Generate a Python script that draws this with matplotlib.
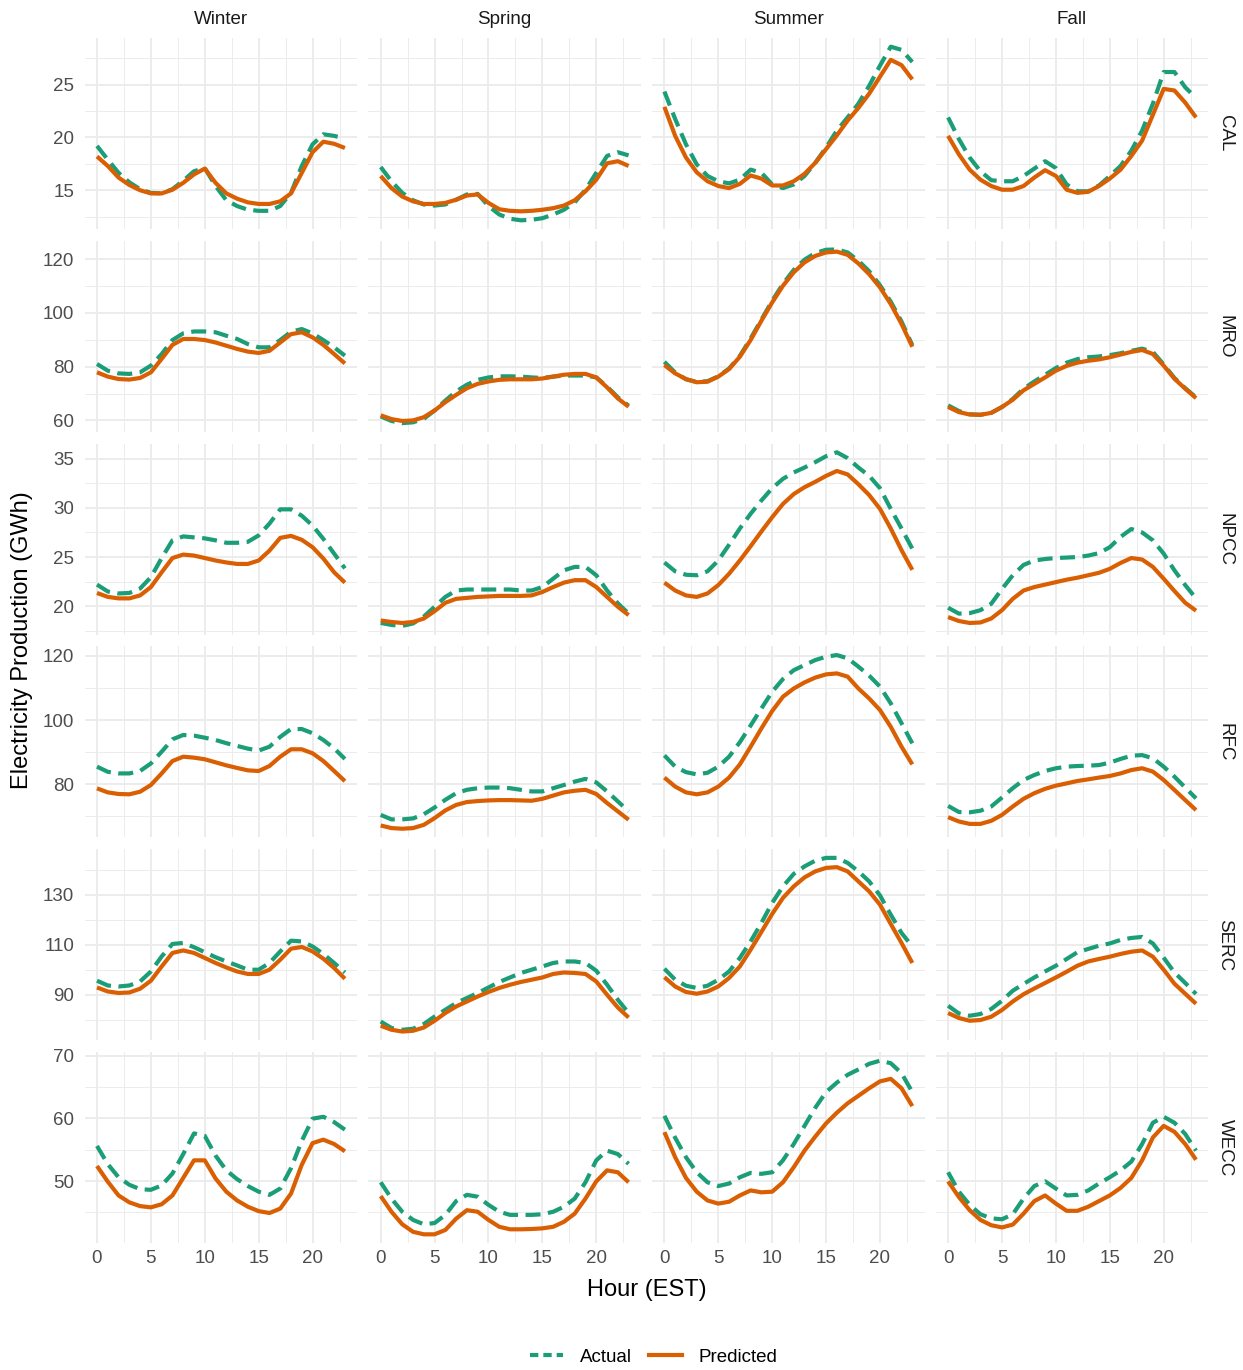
import matplotlib
matplotlib.use("Agg")
import matplotlib.pyplot as plt
from matplotlib.lines import Line2D

plt.rcParams['font.family'] = ['Liberation Sans', 'DejaVu Sans']

hours = list(range(24))
seasons = ["Winter", "Spring", "Summer", "Fall"]
regions = ["CAL", "MRO", "NPCC", "RFC", "SERC", "WECC"]

# ---------------- CAL ----------------
cal_winter_actual = [19.2,17.9,16.65,15.75,15.1,14.75,14.7,15.1,15.9,16.8,17.1,15.4,14.05,13.5,13.15,13.05,13.05,13.5,14.75,17.3,19.35,20.3,20.15,19.9]
cal_winter_pred = [18.2,17.3,16.2,15.5,15.0,14.7,14.7,15.05,15.7,16.5,17.05,15.7,14.7,14.2,13.85,13.7,13.7,13.95,14.7,16.65,18.6,19.6,19.4,19.0]
cal_spring_actual = [17.2,15.85,14.75,14.05,13.65,13.55,13.65,14.1,14.6,14.65,13.5,12.7,12.3,12.15,12.2,12.35,12.7,13.15,13.85,15.05,16.65,18.25,18.6,18.3]
cal_spring_pred = [16.35,15.2,14.4,13.95,13.7,13.7,13.8,14.1,14.5,14.6,13.8,13.2,13.05,13.0,13.05,13.15,13.3,13.55,14.05,14.9,16.0,17.55,17.75,17.3]
cal_summer_actual = [24.35,21.75,19.35,17.45,16.35,15.85,15.65,16.0,16.95,16.65,15.55,15.2,15.55,16.35,17.6,19.05,20.65,21.9,23.2,24.9,26.8,28.6,28.3,27.15]
cal_summer_pred = [22.9,20.15,18.1,16.7,15.85,15.4,15.2,15.6,16.4,16.1,15.45,15.45,15.85,16.55,17.6,18.9,20.2,21.6,22.8,24.15,25.75,27.35,26.85,25.5]
cal_fall_actual = [21.9,19.85,18.1,16.8,15.95,15.85,15.85,16.35,17.05,17.75,17.1,15.55,14.9,14.9,15.45,16.35,17.3,18.75,20.65,23.2,26.2,26.2,24.75,23.75]
cal_fall_pred = [20.15,18.4,16.95,16.0,15.4,15.05,15.05,15.4,16.2,16.9,16.35,15.05,14.75,14.85,15.4,16.1,16.95,18.25,19.7,22.15,24.6,24.45,23.3,21.9]

# ---------------- MRO ----------------
mro_winter_actual = [81.0,78.5,77.5,77.3,77.9,80.4,84.7,89.9,92.4,93.1,93.1,92.8,91.5,90.3,88.4,87.2,87.2,89.9,93.0,94.0,92.4,89.9,87.2,84.1]
mro_winter_pred = [77.9,76.3,75.4,75.2,75.8,77.9,82.9,88.1,90.3,90.3,89.9,89.0,87.8,86.6,85.6,85.1,85.9,89.0,92.1,92.8,90.9,88.1,84.7,81.2]
mro_spring_actual = [61.5,59.8,59.0,59.3,60.6,63.7,67.4,70.8,73.3,75.1,76.0,76.4,76.4,76.3,76.0,75.8,76.3,76.7,76.7,76.7,76.0,72.6,68.6,65.5]
mro_spring_pred = [61.9,60.5,59.8,60.0,61.2,63.7,66.8,69.5,72.0,73.6,74.5,75.1,75.3,75.3,75.3,75.6,76.3,77.0,77.3,77.3,76.0,72.3,68.2,65.1]
mro_summer_actual = [81.8,77.8,75.3,74.3,74.6,76.4,79.3,84.0,90.5,97.5,104.5,110.8,116.0,119.8,122.3,123.5,123.6,122.5,119.4,115.5,110.3,104.2,96.8,88.0]
mro_summer_pred = [80.6,77.5,75.4,74.2,74.4,76.3,79.1,83.7,89.9,97.1,103.9,110.1,115.1,118.8,121.2,122.5,122.8,121.6,118.4,114.4,109.5,103.3,95.9,87.4]
mro_fall_actual = [65.6,63.5,62.3,62.1,62.8,65.0,68.0,71.8,74.5,77.0,79.5,81.5,82.8,83.5,83.8,84.3,85.0,85.9,86.7,85.5,80.8,75.8,72.0,68.6]
mro_fall_pred = [65.0,63.1,62.2,62.1,62.8,65.0,67.7,71.2,73.6,76.0,78.5,80.3,81.5,82.2,82.7,83.5,84.5,85.5,86.2,84.7,80.4,75.5,71.8,68.3]

# ---------------- NPCC ----------------
npcc_winter_actual = [22.2,21.5,21.3,21.35,21.8,22.95,24.9,26.7,27.1,27.0,26.9,26.7,26.45,26.45,26.55,27.2,28.4,29.85,29.85,29.2,28.2,26.85,25.35,23.85]
npcc_winter_pred = [21.35,20.95,20.8,20.8,21.1,21.95,23.45,24.9,25.25,25.15,24.9,24.65,24.45,24.3,24.3,24.65,25.65,26.95,27.15,26.75,26.0,24.85,23.45,22.4]
npcc_spring_actual = [18.3,18.1,18.0,18.25,18.95,19.95,20.95,21.6,21.7,21.7,21.7,21.7,21.7,21.6,21.6,21.95,22.8,23.65,24.0,24.0,23.15,21.6,20.3,19.25]
npcc_spring_pred = [18.55,18.4,18.3,18.4,18.75,19.5,20.35,20.75,20.85,20.95,21.0,21.05,21.05,21.05,21.1,21.45,21.95,22.4,22.65,22.65,21.95,20.95,19.95,19.1]
npcc_summer_actual = [24.45,23.55,23.2,23.15,23.55,24.65,26.25,27.9,29.4,30.75,32.0,32.95,33.6,34.1,34.65,35.25,35.65,35.05,34.1,33.25,32.0,29.9,27.9,25.85]
npcc_summer_pred = [22.4,21.6,21.1,20.95,21.3,22.15,23.3,24.65,26.1,27.6,29.05,30.4,31.4,32.1,32.65,33.25,33.75,33.4,32.4,31.3,29.9,27.9,25.7,23.7]
npcc_fall_actual = [19.85,19.25,19.3,19.6,20.25,21.75,23.15,24.2,24.65,24.8,24.9,24.95,25.0,25.15,25.4,26.0,27.05,27.85,27.5,26.7,25.35,23.65,22.15,20.8]
npcc_fall_pred = [18.9,18.5,18.3,18.35,18.75,19.6,20.75,21.6,21.95,22.2,22.45,22.7,22.9,23.15,23.4,23.8,24.4,24.9,24.75,24.0,22.8,21.55,20.35,19.55]

# ---------------- RFC ----------------
rfc_winter_actual = [85.5,83.9,83.4,83.4,84.15,86.5,90.15,94.0,95.35,95.15,94.5,93.8,92.8,91.95,91.1,90.5,91.7,94.75,97.2,97.2,95.9,93.8,91.2,87.9]
rfc_winter_pred = [78.75,77.5,77.0,76.9,77.7,79.8,83.4,87.25,88.6,88.3,87.8,86.85,85.9,85.1,84.35,84.15,85.7,88.6,90.9,90.9,89.65,87.25,84.15,81.0]
rfc_spring_actual = [70.5,69.1,69.1,69.4,70.7,72.8,75.2,77.25,78.3,78.8,79.0,79.0,78.8,78.3,77.8,77.8,78.8,79.8,80.85,81.7,80.6,77.8,74.7,71.6]
rfc_spring_pred = [67.2,66.4,66.2,66.4,67.4,69.5,71.9,73.6,74.5,74.8,75.0,75.1,75.1,75.0,74.9,75.5,76.5,77.5,78.0,78.3,77.0,74.2,71.6,69.0]
rfc_summer_actual = [89.0,85.5,83.8,83.1,83.6,85.5,88.6,93.1,98.3,103.6,108.8,112.75,115.5,117.1,118.65,119.7,120.2,119.2,116.6,113.8,110.4,105.2,99.0,92.75]
rfc_summer_pred = [82.1,79.3,77.5,76.9,77.5,79.3,82.1,86.2,91.7,97.4,102.8,107.25,109.8,111.7,113.2,114.2,114.5,113.5,109.8,106.7,103.1,97.9,91.7,86.2]
rfc_fall_actual = [73.3,71.4,71.3,71.8,73.1,75.9,78.8,81.35,82.9,84.15,85.0,85.5,85.7,85.8,86.0,86.75,87.9,88.9,89.1,88.1,85.5,82.4,79.0,75.65]
rfc_fall_pred = [69.8,68.45,67.7,67.7,68.65,70.5,73.1,75.5,77.25,78.6,79.6,80.3,81.05,81.55,82.1,82.6,83.4,84.45,85.0,83.95,81.35,78.25,75.1,72.0]

# ---------------- SERC ----------------
serc_winter_actual = [95.6,93.7,93.3,93.7,95.3,99.3,105.3,110.3,110.7,109.0,107.0,105.0,103.3,101.7,100.0,100.0,102.7,107.3,111.6,111.3,109.3,106.3,102.7,98.9]
serc_winter_pred = [92.9,91.3,90.7,90.9,92.4,95.6,101.3,106.7,107.7,106.7,104.7,102.7,100.9,99.3,98.3,98.3,100.0,104.0,108.4,109.1,107.3,104.4,100.7,96.4]
serc_spring_actual = [79.3,76.7,76.0,76.4,78.3,81.3,84.0,86.7,88.7,90.7,92.9,95.1,96.9,98.7,100.0,101.3,102.7,103.3,103.3,102.7,99.6,94.0,88.0,82.7]
serc_spring_pred = [77.6,76.0,75.3,75.6,76.9,79.6,82.7,85.3,87.3,89.3,91.1,92.7,94.0,95.1,96.0,96.9,98.3,98.9,98.7,98.3,95.3,90.0,84.9,80.9]
serc_summer_actual = [100.4,96.0,93.6,92.7,93.6,96.0,99.3,104.7,111.3,118.7,126.7,133.3,138.3,141.3,143.6,144.7,144.7,142.7,139.3,135.3,129.7,122.0,114.7,109.3]
serc_summer_pred = [97.0,93.3,91.1,90.4,91.3,93.3,96.7,101.3,108.0,115.1,122.3,128.7,133.3,136.9,139.3,140.7,141.0,139.3,135.3,131.3,126.0,118.3,110.7,102.7]
serc_fall_actual = [85.6,82.5,81.6,82.3,84.3,87.6,91.6,94.3,96.9,99.3,101.6,104.3,107.0,108.3,109.6,110.5,111.9,112.7,113.1,110.5,104.8,98.9,94.7,90.3]
serc_fall_pred = [82.7,80.7,79.6,79.9,81.2,83.9,87.3,90.2,92.5,94.7,96.9,99.2,101.6,103.3,104.3,105.2,106.3,107.2,107.7,105.2,100.0,94.4,90.4,86.4]

# ---------------- WECC ----------------
wecc_winter_actual = [55.6,52.7,50.6,49.4,48.7,48.6,49.3,51.2,54.3,57.6,57.2,54.05,51.7,50.3,49.2,48.3,47.8,48.8,52.05,56.4,59.95,60.25,59.4,58.2]
wecc_winter_pred = [52.4,49.9,47.7,46.6,46.0,45.8,46.3,47.7,50.5,53.3,53.3,50.4,48.3,46.9,45.9,45.2,44.9,45.6,48.0,52.6,56.05,56.6,55.9,54.75]
wecc_spring_actual = [49.8,47.2,45.1,43.8,43.1,43.3,44.6,46.8,47.8,47.5,46.2,45.1,44.6,44.6,44.6,44.7,45.1,45.9,47.2,49.8,53.3,54.85,54.3,52.75]
wecc_spring_pred = [47.6,45.1,43.1,41.9,41.5,41.5,42.2,44.0,45.35,45.1,43.8,42.7,42.3,42.3,42.35,42.45,42.7,43.5,44.8,47.2,49.95,51.7,51.4,49.8]
wecc_summer_actual = [60.4,56.9,53.8,51.4,49.8,49.2,49.6,50.6,51.3,51.15,51.4,53.3,55.9,58.8,61.7,64.2,65.7,66.95,67.8,68.7,69.2,68.8,67.2,64.2]
wecc_summer_pred = [57.8,53.8,50.5,48.3,46.9,46.4,46.7,47.7,48.5,48.2,48.3,49.8,52.2,54.85,57.1,59.2,60.9,62.4,63.6,64.8,65.9,66.3,64.8,61.95]
wecc_fall_actual = [51.4,48.3,46.2,44.7,44.05,43.9,44.7,47.2,49.2,49.95,48.8,47.7,47.8,48.5,49.6,50.6,51.7,53.1,55.9,59.3,60.25,59.3,57.5,54.85]
wecc_fall_pred = [49.95,47.45,45.35,43.8,42.95,42.6,43.05,44.8,46.8,47.7,46.4,45.25,45.25,45.9,46.8,47.7,48.9,50.5,53.3,56.95,58.8,57.85,55.9,53.4]

# y-axis breaks per row (major / minor)
cal_major = [15, 20, 25]
cal_minor = [12.5, 17.5, 22.5, 27.5]
mro_major = [60, 80, 100, 120]
mro_minor = [70, 90, 110]
npcc_major = [20, 25, 30, 35]
npcc_minor = [17.5, 22.5, 27.5, 32.5]
rfc_major = [80, 100, 120]
rfc_minor = [70, 90, 110]
serc_major = [90, 110, 130]
serc_minor = [80, 100, 120, 140]
wecc_major = [50, 60, 70]
wecc_minor = [45, 55, 65]

x_major = [0, 5, 10, 15, 20]
x_minor = [2.5, 7.5, 12.5, 17.5, 22.5]

g = globals()
y_breaks = {"CAL": (cal_major, cal_minor), "MRO": (mro_major, mro_minor),
            "NPCC": (npcc_major, npcc_minor), "RFC": (rfc_major, rfc_minor),
            "SERC": (serc_major, serc_minor), "WECC": (wecc_major, wecc_minor)}

GREEN = "#1B9E77"
ORANGE = "#D95F02"
LW = 3.0
DASH = (3.6, 1.8)

W, H = 1243, 1370
fig = plt.figure(figsize=(W / 100, H / 100), dpi=100)
fig.patch.set_facecolor("white")

left0, pw, xstep = 84.6, 272.7, 283.7
top0, ph, ystep = 38.0, 191.0, 202.8

for r, reg in enumerate(regions):
    row_ax = None
    for c, sea in enumerate(seasons):
        left = left0 + c * xstep
        top = top0 + r * ystep
        rect = [left / W, 1 - (top + ph) / H, pw / W, ph / H]
        ax = fig.add_axes(rect, sharey=row_ax) if row_ax is not None else fig.add_axes(rect)
        if row_ax is None:
            row_ax = ax
        actual = g[f"{reg.lower()}_{sea.lower()}_actual"]
        pred = g[f"{reg.lower()}_{sea.lower()}_pred"]
        ax.plot(hours, actual, color=GREEN, lw=LW, dashes=DASH,
                dash_capstyle="butt", dash_joinstyle="round", zorder=3)
        ax.plot(hours, pred, color=ORANGE, lw=LW,
                solid_capstyle="butt", solid_joinstyle="round", zorder=4)
        ax.margins(x=0.05, y=0.05)
        for sp in ax.spines.values():
            sp.set_visible(False)
        ax.set_xticks(x_major)
        ax.set_xticks(x_minor, minor=True)
        maj, mnr = y_breaks[reg]
        ax.set_yticks(maj)
        ax.set_yticks(mnr, minor=True)
        ax.set_axisbelow(True)
        ax.grid(which="major", color="#EBEBEB", lw=1.3)
        ax.grid(which="minor", color="#EBEBEB", lw=0.65)
        ax.tick_params(which="both", length=0, labelsize=13.5, labelcolor="#4D4D4D")
        ax.tick_params(axis="y", pad=7.5)
        ax.tick_params(axis="x", pad=5)
        if c != 0:
            ax.tick_params(labelleft=False)
        if r != len(regions) - 1:
            ax.tick_params(labelbottom=False)
        if r == 0:
            fig.text((left + pw / 2) / W, 1 - 19 / H, sea, ha="center", va="center",
                     fontsize=13.5, color="#1A1A1A")
        if c == len(seasons) - 1:
            fig.text(1225 / W, 1 - (top + ph / 2) / H, reg, ha="center", va="center",
                     rotation=-90, fontsize=13.5, color="#1A1A1A")

fig.text(646.5 / W, 1 - 1290 / H, "Hour (EST)", ha="center", va="center", fontsize=17)
fig.text(22 / W, 1 - 640 / H, "Electricity Production (GWh)", ha="center", va="center",
         rotation=90, fontsize=17)

handles = [Line2D([], [], color=GREEN, lw=LW, dashes=(2.0, 1.2)),
           Line2D([], [], color=ORANGE, lw=LW)]
fig.legend(handles, ["Actual", "Predicted"], loc="center",
           bbox_to_anchor=(654 / W, 1 - 1357 / H), ncol=2, frameon=False,
           fontsize=13.5, handlelength=1.75, handletextpad=0.9, columnspacing=0.9)

fig.savefig("out.png", dpi=100, facecolor="white")
